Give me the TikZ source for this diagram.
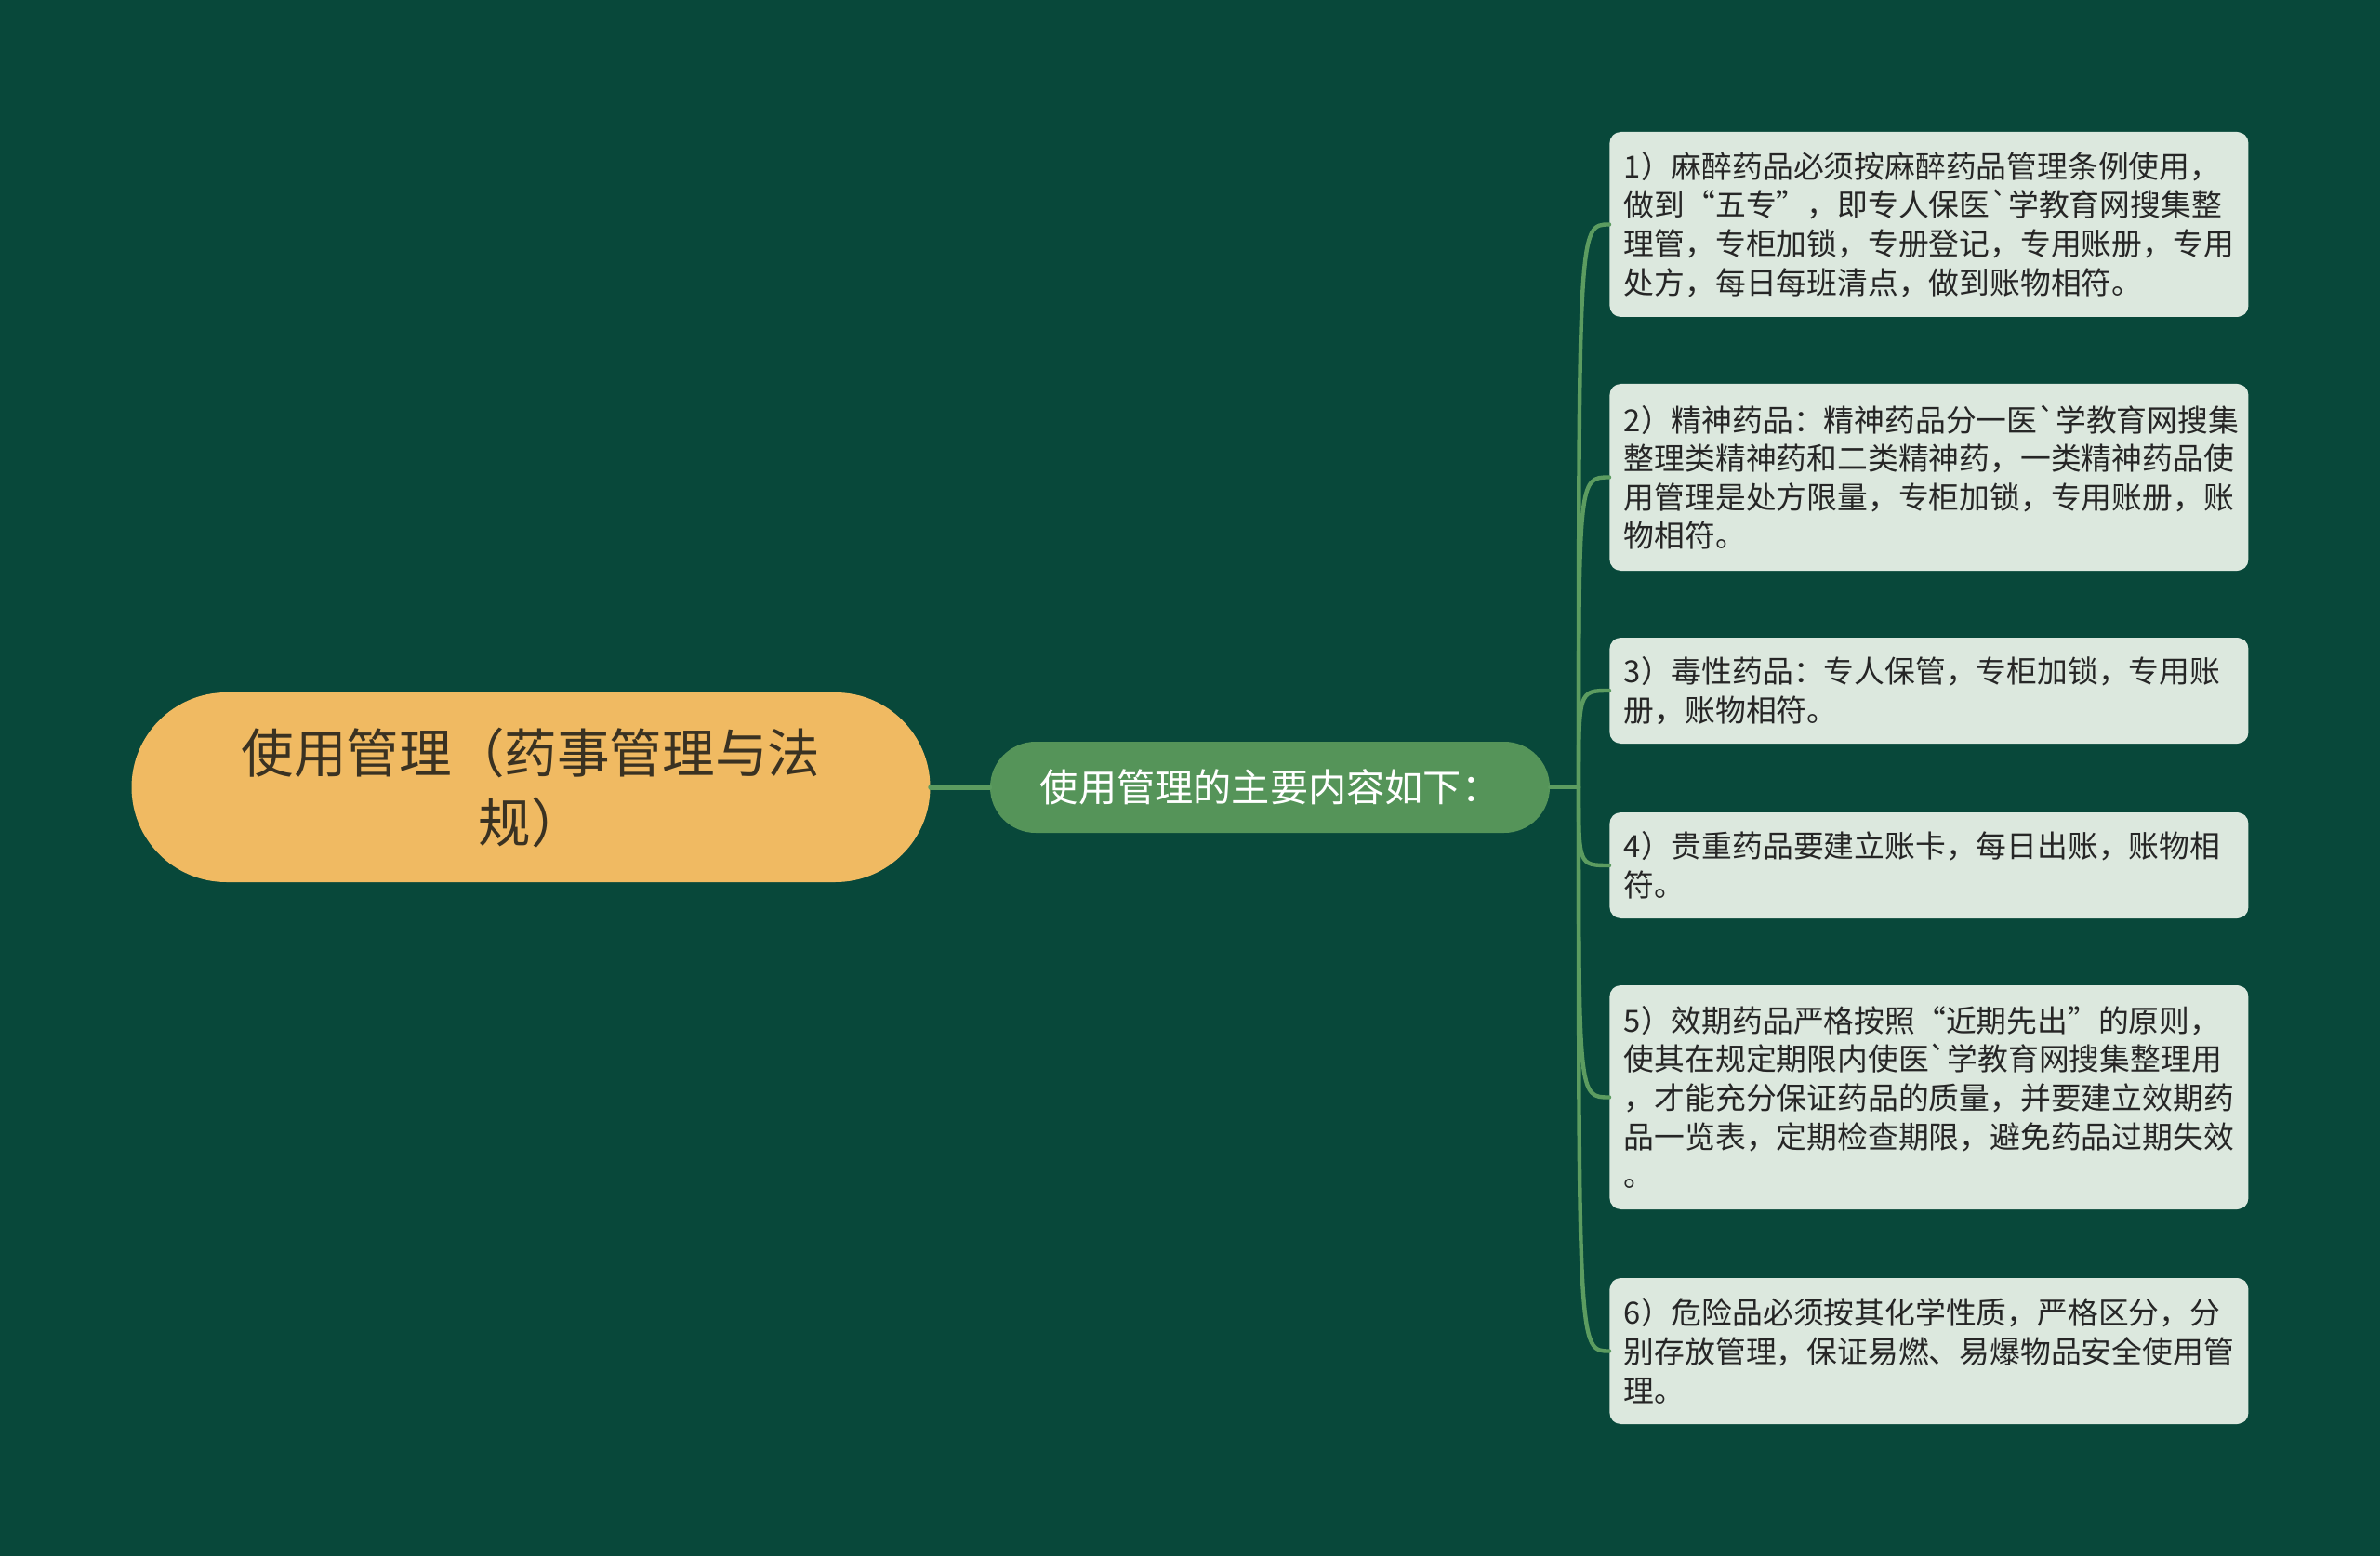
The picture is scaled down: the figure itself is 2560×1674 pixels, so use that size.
\documentclass[tikz,border=0pt]{standalone}
\usepackage{fontspec}
\newfontfamily\cjk{Noto Sans CJK SC}
\usetikzlibrary{positioning, calc}

\definecolor{bgcol}{HTML}{08483A}
\definecolor{rootcol}{HTML}{F0BA62}
\definecolor{roottext}{HTML}{3A3222}
\definecolor{midcol}{HTML}{559459}
\definecolor{leafcol}{HTML}{DCE8DE}
\definecolor{linkcol}{HTML}{5C9C60}

\begin{document}
\begin{tikzpicture}[x=0.5pt, y=-0.5pt,
    rootnode/.style={fill=rootcol, text=roottext, rounded corners=51pt,
        minimum width=429.5pt, minimum height=102pt, align=center,
        font=\cjk\fontsize{28.3}{37.5}\selectfont},
    midnode/.style={fill=midcol, text=white, rounded corners=24.5pt,
        minimum width=301pt, minimum height=49pt,
        font=\cjk\fontsize{20.6}{24}\selectfont},
    leafnode/.style={fill=leafcol, text=black!85, rounded corners=6pt,
        anchor=west, text width=328pt, inner xsep=7.75pt, align=left,
        font=\cjk\fontsize{16.4}{20.8}\selectfont},
    link/.style={draw=linkcol, line width=2.2pt, line cap=round}]

    % background
    \fill[bgcol] (0,0) rectangle (2560,1674);
    \useasboundingbox (0,0) rectangle (2560,1674);

    % root and middle
    \node[rootnode] (root) at (571,847) {使用管理（药事管理与法\\规）};
    \node[midnode] (main) at (1366,847) {使用管理的主要内容如下：};
    \coordinate (junc) at (1698,847);

    % leaves
    \node[leafnode, minimum height=99.5pt] (l1) at (1731,241.5)
        {1）麻醉药品必须按麻醉药品管理条例使用，\\做到“五专”，即专人保医`学教育网搜集整\\理管，专柜加锁，专册登记，专用账册，专用\\处方，每日每班清点，做到账物相符。};
    \node[leafnode, minimum height=100.5pt] (l2) at (1731,513.5)
        {2）精神药品：精神药品分一医`学教育网搜集\\整理类精神药和二类精神药，一类精神药品使\\用管理是处方限量，专柜加锁，专用账册，账\\物相符。};
    \node[leafnode, minimum height=57pt] (l3) at (1731,743)
        {3）毒性药品：专人保管，专柜加锁，专用账\\册，账物相符。};
    \node[leafnode, minimum height=57pt] (l4) at (1731,931)
        {4）贵重药品要建立账卡，每日出账，账物相\\符。};
    \node[leafnode, minimum height=120.5pt] (l5) at (1731,1180.5)
        {5）效期药品严格按照“近期先出”的原则，\\使其在规定期限内使医`学教育网搜集整理用\\，才能充分保证药品的质量，并要建立效期药\\品一览表，定期检查期限，避免药品过期失效\\。};
    \node[leafnode, minimum height=78.5pt] (l6) at (1731,1453.5)
        {6）危险品必须按其化学性质，严格区分，分\\别存放管理，保证易燃、易爆物品安全使用管\\理。};

    % connectors
    \draw[link, line width=2.6pt] (root.east) -- (main.west);
    \draw[link] (main.east) -- (junc);
    \foreach \leaf in {l1,l2,l3,l4,l5,l6}
        \draw[link] (junc) .. controls (junc |- \leaf.west) .. (\leaf.west);
\end{tikzpicture}
\end{document}
